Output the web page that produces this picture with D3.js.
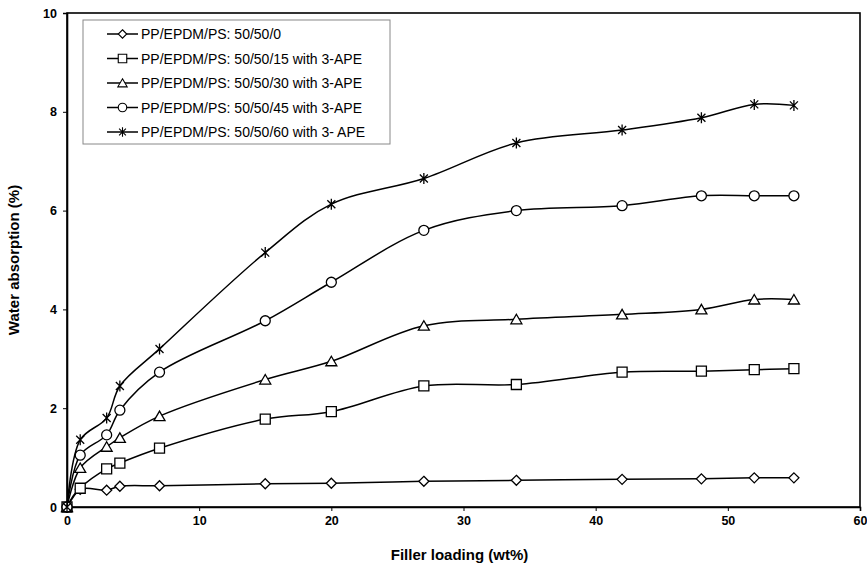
<!DOCTYPE html>
<html>
<head>
<meta charset="utf-8">
<script src="https://cdn.jsdelivr.net/npm/d3@7"></script>
<style>
  body { margin: 0; background: #fff; }
  text { font-family: "Liberation Sans", Arial, sans-serif; }
</style>
</head>
<body>
<div id="wrapper"></div>
<script>
// filler loading (wt%)
const loading = [0, 1, 3, 4, 7, 15, 20, 27, 34, 42, 48, 52, 55]

const seriesNames = [
    "PP/EPDM/PS: 50/50/0",
    "PP/EPDM/PS: 50/50/15 with 3-APE",
    "PP/EPDM/PS: 50/50/30 with 3-APE",
    "PP/EPDM/PS: 50/50/45 with 3-APE",
    "PP/EPDM/PS: 50/50/60 with 3- APE",
]
const markerTypes = ["diamond", "square", "triangle", "circle", "star"]

const ps0 = [0, 0.36, 0.34, 0.42, 0.43, 0.47, 0.48, 0.52, 0.54, 0.56, 0.57, 0.59, 0.59]
const ps15 = [0, 0.38, 0.77, 0.89, 1.19, 1.78, 1.93, 2.45, 2.48, 2.73, 2.75, 2.78, 2.8]
const ps30 = [0, 0.79, 1.22, 1.4, 1.84, 2.58, 2.95, 3.67, 3.8, 3.9, 4.0, 4.2, 4.2]
const ps45 = [0, 1.05, 1.46, 1.96, 2.73, 3.77, 4.55, 5.6, 6.0, 6.1, 6.3, 6.3, 6.3]
const ps60 = [0, 1.36, 1.8, 2.45, 3.2, 5.15, 6.13, 6.65, 7.37, 7.63, 7.88, 8.15, 8.13]

const xTicks = [0, 10, 20, 30, 40, 50, 60]
const yTicks = [0, 2, 4, 6, 8, 10]

const allSeries = [ps0, ps15, ps30, ps45, ps60].map((vals, i) => ({
    name: seriesNames[i],
    marker: markerTypes[i],
    points: vals.map((v, j) => ({ x: loading[j], y: v })),
}))

let dimensions = {
    width: 867,
    height: 568,
    margin: {
        top: 13,
        right: 7,
        bottom: 61,
        left: 67,
    }
}
dimensions.boundedWidth = dimensions.width - dimensions.margin.left - dimensions.margin.right
dimensions.boundedHeight = dimensions.height - dimensions.margin.top - dimensions.margin.bottom

const wrapper = d3.select("#wrapper")
    .append("svg")
    .attr("width", dimensions.width)
    .attr("height", dimensions.height)

const bounds = wrapper.append("g")
    .attr("transform", `translate(${dimensions.margin.left},${dimensions.margin.top})`)

const xScale = d3.scaleLinear().domain([0, 60]).range([0, dimensions.boundedWidth])
const yScale = d3.scaleLinear().domain([0, 10]).range([dimensions.boundedHeight, 0])

// plot frame
bounds.append("rect")
    .attr("width", dimensions.boundedWidth)
    .attr("height", dimensions.boundedHeight)
    .attr("fill", "none")
    .attr("stroke", "#000")
    .attr("stroke-width", 1.6)

const xAxis = bounds.append("g")
    .attr("transform", `translate(0,${dimensions.boundedHeight})`)
    .call(d3.axisBottom(xScale).tickValues(xTicks).tickSize(4).tickPadding(5).tickFormat(d3.format("d")))
const yAxis = bounds.append("g")
    .call(d3.axisLeft(yScale).tickValues(yTicks).tickSize(4).tickPadding(6).tickFormat(d3.format("d")))

;[xAxis, yAxis].forEach(ax => {
    ax.select(".domain").attr("stroke-width", 1.6)
    ax.selectAll("text")
        .attr("font-family", "Liberation Sans, Arial, sans-serif")
        .attr("font-size", 12.5)
        .attr("font-weight", "bold")
        .attr("fill", "#000")
})

wrapper.append("text")
    .attr("x", dimensions.margin.left + dimensions.boundedWidth / 2 - 4)
    .attr("y", 560)
    .attr("text-anchor", "middle")
    .attr("font-size", 15)
    .attr("font-weight", "bold")
    .text("Filler loading (wt%)")

wrapper.append("text")
    .attr("transform", `translate(19,${dimensions.margin.top + dimensions.boundedHeight / 2}) rotate(-90)`)
    .attr("text-anchor", "middle")
    .attr("font-size", 15)
    .attr("font-weight", "bold")
    .text("Water absorption (%)")

const lineGen = d3.line()
    .x(d => xScale(d.x))
    .y(d => yScale(d.y))
    .curve(d3.curveCatmullRom.alpha(0.5))

const markerPath = {
    diamond: "M0,-5L5,0L0,5L-5,0Z",
    square: "M-5,-5H5V5H-5Z",
    triangle: "M0,-5L5.5,4.5H-5.5Z",
    circle: "M5,0A5,5 0 1,1 -5,0A5,5 0 1,1 5,0Z",
    star: "M-4,-4L4,4M-4,4L4,-4M0,-5.5V5.5",
}

const drawMarker = (sel, type) => sel.append("path")
    .attr("d", markerPath[type])
    .attr("fill", type === "star" ? "none" : "#fff")
    .attr("stroke", "#000")
    .attr("stroke-width", 1.3)

const seriesG = bounds.selectAll(".series")
    .data(allSeries)
    .join("g")

seriesG.append("path")
    .attr("d", d => lineGen(d.points))
    .attr("fill", "none")
    .attr("stroke", "#000")
    .attr("stroke-width", 1.5)

seriesG.each(function(s) {
    d3.select(this).selectAll(".pt")
        .data(s.points)
        .join("g")
        .attr("transform", d => `translate(${xScale(d.x)},${yScale(d.y)})`)
        .call(g => drawMarker(g, s.marker))
})

// legend
const legend = wrapper.append("g").attr("transform", "translate(83,20)")
legend.append("rect")
    .attr("width", 307)
    .attr("height", 124)
    .attr("fill", "#fff")
    .attr("stroke", "#888")
    .attr("stroke-width", 1)

allSeries.forEach((s, i) => {
    const row = legend.append("g").attr("transform", `translate(0,${14 + i * 24.5})`)
    row.append("line")
        .attr("x1", 24).attr("x2", 55)
        .attr("stroke", "#000").attr("stroke-width", 1.5)
    const m = row.append("g").attr("transform", "translate(39.5,0) scale(0.85)")
    drawMarker(m, s.marker)
    row.append("text")
        .attr("x", 58)
        .attr("y", 5)
        .attr("font-size", 14)
        .text(s.name)
})
</script>
</body>
</html>
